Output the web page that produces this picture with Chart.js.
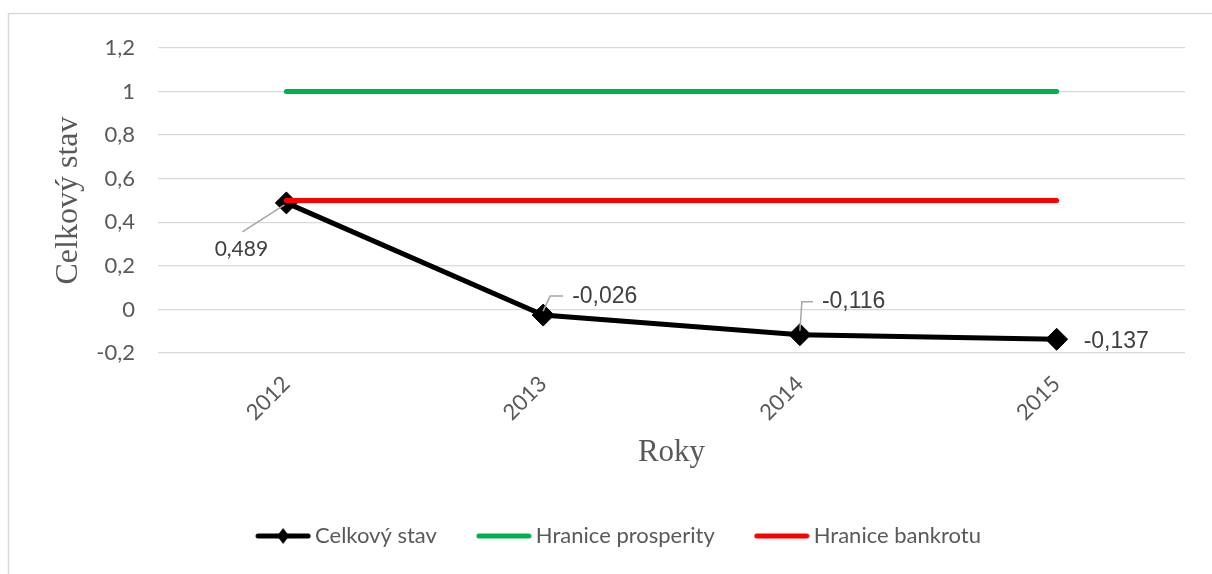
<!DOCTYPE html>
<html>
<head>
<meta charset="utf-8">
<script src="https://cdn.jsdelivr.net/npm/chart.js@4.4.0/dist/chart.umd.min.js"></script>
<style>
html, body { margin: 0; padding: 0; background: #ffffff; }
#chart { display: block; }
</style>
</head>
<body>
<canvas id="chart" width="1212" height="574"></canvas>
<script>
// Chart data
var years = ['2012', '2013', '2014', '2015'];
var celkovyStav = [0.489, -0.026, -0.116, -0.137];
var hraniceProsperity = [1, 1, 1, 1];
var hraniceBankrotu = [0.5, 0.5, 0.5, 0.5];
var yMin = -0.2;
var yMax = 1.2;
var yStep = 0.2;

var textColor = '#595959';
var labelColor = '#404040';
var gridColor = '#d9d9d9';

// Number with Czech decimal comma
function czNum(v, digits) {
    var s = digits === undefined ? String(Number(v.toFixed(1))) : v.toFixed(digits);
    return s.replace('.', ',');
}

// Small canvas used as the legend symbol (line, optionally with a diamond)
function legendSymbol(color, diamond) {
    var c = document.createElement('canvas');
    c.width = 56;
    c.height = 20;
    var g = c.getContext('2d');
    g.strokeStyle = color;
    g.lineWidth = 5;
    g.lineCap = 'round';
    g.beginPath();
    g.moveTo(3, 10);
    g.lineTo(53, 10);
    g.stroke();
    if (diamond) {
        g.fillStyle = color;
        g.beginPath();
        g.moveTo(28, 2);
        g.lineTo(34, 10);
        g.lineTo(28, 18);
        g.lineTo(22, 10);
        g.closePath();
        g.fill();
    }
    return c;
}

// Label offsets for each point of "Celkový stav"
var labelStyle = [
    { dx: -45, dy: 46, align: 'center', font: '21px Lato', leader: [[-2, 2], [-44, 29]] },
    { dx: 29, dy: -18, align: 'left', font: '23px "Liberation Sans"', leader: [[0, -4], [7, -19], [20, -19]] },
    { dx: 22, dy: -33, align: 'left', font: '23px "Liberation Sans"', leader: [[0, -4], [2, -33], [13, -33]] },
    { dx: 27, dy: 2, align: 'left', font: '23px "Liberation Sans"', leader: null }
];

var frameAndLabels = {
    id: 'frameAndLabels',
    beforeDraw: function(chart) {
        var ctx = chart.ctx;
        ctx.save();
        ctx.fillStyle = '#ffffff';
        ctx.fillRect(0, 0, chart.width, chart.height);
        ctx.strokeStyle = gridColor;
        ctx.lineWidth = 1.5;
        ctx.strokeRect(8.5, 13.5, chart.width + 20, chart.height + 20);
        ctx.restore();
    },
    afterDatasetsDraw: function(chart) {
        var ctx = chart.ctx;
        var meta = chart.getDatasetMeta(0);
        ctx.save();
        meta.data.forEach(function(pt, i) {
            var st = labelStyle[i];
            if (st.leader) {
                ctx.strokeStyle = '#a6a6a6';
                ctx.lineWidth = 1.5;
                ctx.beginPath();
                st.leader.forEach(function(p, k) {
                    if (k === 0) ctx.moveTo(pt.x + p[0], pt.y + p[1]);
                    else ctx.lineTo(pt.x + p[0], pt.y + p[1]);
                });
                ctx.stroke();
            }
            ctx.fillStyle = labelColor;
            ctx.font = st.font;
            ctx.textAlign = st.align;
            ctx.textBaseline = 'middle';
            ctx.fillText(czNum(celkovyStav[i], 3), pt.x + st.dx, pt.y + st.dy);
        });
        ctx.restore();
    }
};

var symbols = [legendSymbol('#000000', true), legendSymbol('#00b050', false), legendSymbol('#ff0000', false)];

var ctx = document.getElementById('chart').getContext('2d');
var chart = new Chart(ctx, {
    type: 'line',
    data: {
        labels: years,
        datasets: [{
            label: 'Celkový stav',
            data: celkovyStav,
            borderColor: '#000000',
            backgroundColor: '#000000',
            borderWidth: 5,
            pointStyle: 'rectRot',
            pointRadius: 11,
            pointBackgroundColor: '#000000',
            pointBorderColor: '#000000',
            pointBorderWidth: 1,
            tension: 0,
            order: 3
        }, {
            label: 'Hranice prosperity',
            data: hraniceProsperity,
            borderColor: '#00b050',
            backgroundColor: '#00b050',
            borderWidth: 5,
            borderCapStyle: 'round',
            pointRadius: 0,
            tension: 0,
            order: 2
        }, {
            label: 'Hranice bankrotu',
            data: hraniceBankrotu,
            borderColor: '#ff0000',
            backgroundColor: '#ff0000',
            borderWidth: 5,
            borderCapStyle: 'round',
            pointRadius: 0,
            tension: 0,
            order: 1
        }]
    },
    options: {
        responsive: false,
        animation: false,
        events: [],
        layout: {
            padding: { left: 58, right: 27, top: 48, bottom: 17 }
        },
        scales: {
            x: {
                offset: true,
                grid: { display: false, drawTicks: false },
                border: { display: false },
                ticks: {
                    color: textColor,
                    font: { family: 'Lato', size: 22 },
                    minRotation: 45,
                    maxRotation: 45,
                    padding: 18
                },
                title: {
                    display: true,
                    text: 'Roky',
                    color: textColor,
                    font: { family: '"Liberation Serif"', size: 31 },
                    padding: { top: 0, bottom: 8 }
                },
                afterFit: function(scale) { scale.height = 126; }
            },
            y: {
                min: yMin,
                max: yMax,
                grid: { color: gridColor, lineWidth: 1.3, drawTicks: false },
                border: { display: false },
                ticks: {
                    stepSize: yStep,
                    color: textColor,
                    font: { family: 'Lato', size: 22 },
                    padding: 23,
                    callback: function(v) { return czNum(v); }
                },
                title: {
                    display: true,
                    text: 'Celkový stav',
                    color: textColor,
                    font: { family: '"Liberation Serif"', size: 32 },
                    padding: { top: -9, bottom: 0 }
                },
                afterFit: function(scale) { scale.width = 100; }
            }
        },
        plugins: {
            tooltip: { enabled: false },
            legend: {
                position: 'bottom',
                labels: {
                    color: textColor,
                    font: { family: 'Lato', size: 22 },
                    usePointStyle: true,
                    pointStyleWidth: 42,
                    padding: 46,
                    generateLabels: function(ch) {
                        return ch.data.datasets.map(function(ds, i) {
                            return {
                                text: ds.label,
                                fillStyle: ds.borderColor,
                                strokeStyle: ds.borderColor,
                                lineWidth: 0,
                                hidden: false,
                                pointStyle: symbols[i],
                                fontColor: textColor,
                                datasetIndex: i
                            };
                        });
                    }
                }
            }
        }
    },
    plugins: [frameAndLabels]
});
</script>
</body>
</html>
